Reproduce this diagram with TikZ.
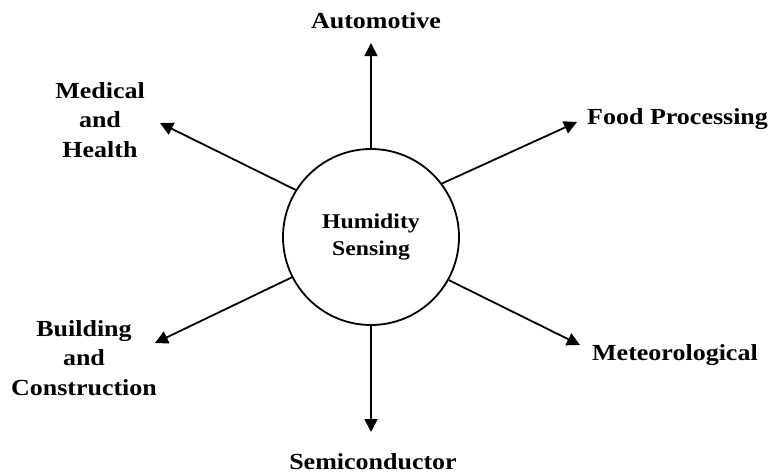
\documentclass[tikz,border=0pt]{standalone}
\usepackage{fontspec}
\setmainfont{Liberation Serif}[FakeStretch=1.13]
\usetikzlibrary{arrows.meta,positioning}
\tikzset{
  hub/.style={circle,draw,line width=1.8pt,minimum size=176pt,inner sep=0pt,
    align=center,font=\bfseries\fontsize{21}{27}\selectfont},
  anwendung/.style={align=center,inner sep=0pt,
    font=\bfseries\fontsize{23}{29.5}\selectfont},
  pfeil/.style={line width=1.8pt,-{Triangle[length=13pt,width=13pt]}}
}
\begin{document}
\begin{tikzpicture}[x=1pt,y=-1pt]
\useasboundingbox (0,0) rectangle (768,475);
% Mittelpunkt
  \node (H) [hub] at (371,237) {Humidity\\Sensing};
% Pfeilspitzen
  \coordinate (tA) at (371,43);
  \coordinate (tF) at (577,122);
  \coordinate (tM) at (580,345);
  \coordinate (tS) at (371,432);
  \coordinate (tB) at (155,343);
  \coordinate (tG) at (160,123);
% Beschriftungen
  \node (A) [anwendung] at (376,21) {Automotive};
  \node (F) [anwendung,anchor=west] at (587,119) {Food Processing};
  \node (M) [anwendung,anchor=west] at (592,355) {Meteorological};
  \node (S) [anwendung] at (373,462) {Semiconductor};
  \node (B) [anwendung] at (84,358) {Building\\and\\Construction};
  \node (G) [anwendung] at (100,120) {Medical\\and\\Health};
% Verbindungen
  \foreach \w/\t in {90/tA,37/tF,-29/tM,270/tS,207/tB,148/tG}
    \draw[pfeil] (H.\w) -- (\t);
\end{tikzpicture}
\end{document}
